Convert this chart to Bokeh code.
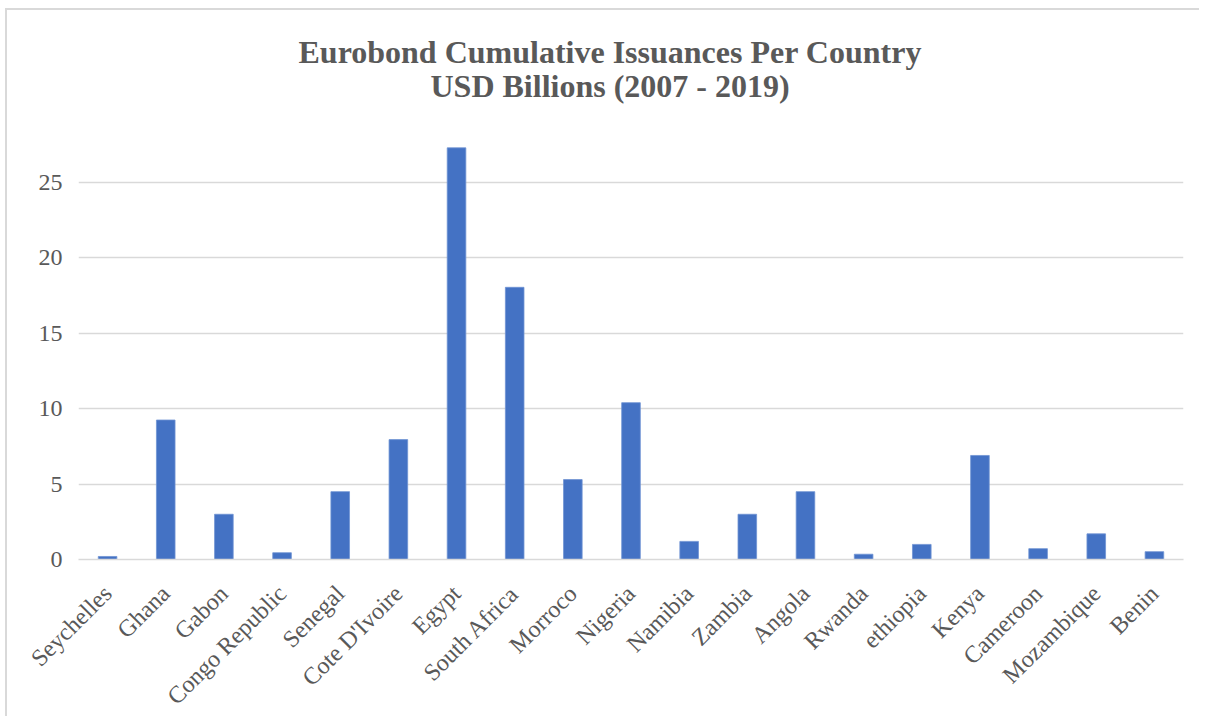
import math
from bokeh.plotting import figure
from bokeh.models import FixedTicker, Title, Range1d, FactorRange, ColumnDataSource
from bokeh.embed import file_html
from bokeh.resources import INLINE

countries = ["Seychelles", "Ghana", "Gabon", "Congo Republic", "Senegal", "Cote D'Ivoire",
             "Egypt", "South Africa", "Morroco", "Nigeria", "Namibia", "Zambia", "Angola",
             "Rwanda", "ethiopia", "Kenya", "Cameroon", "Mozambique", "Benin"]
values = [0.2, 9.25, 3.0, 0.45, 4.5, 7.95, 27.3, 18.05, 5.3, 10.4, 1.2, 3.0, 4.5,
          0.35, 1.0, 6.9, 0.72, 1.7, 0.52]
y_ticks = [0, 5, 10, 15, 20, 25]
title_line1 = "Eurobond Cumulative Issuances Per Country"
title_line2 = "USD Billions (2007 - 2019)"

FONT = "Liberation Serif"
GREY_TXT = "#595959"
GRID = "#d9d9d9"

src = ColumnDataSource(dict(country=countries, value=values))

p = figure(x_range=FactorRange(*countries), y_range=Range1d(0, 28.45),
           frame_width=1105, frame_height=429,
           min_border_left=71, min_border_right=16, min_border_top=120, min_border_bottom=147,
           output_backend="svg", toolbar_location=None, title=None)
p.styles = {"margin": "8px 0 0 5px",
            "border-top": "2px solid #d9d9d9", "border-left": "2px solid #d9d9d9"}

p.vbar(x="country", top="value", width=0.32, source=src,
       fill_color="#4472C4", line_color="#6f93d3", line_width=0.8)

p.outline_line_color = None
p.background_fill_color = "white"
p.border_fill_color = "white"

p.xgrid.visible = False
p.ygrid.grid_line_color = GRID
p.ygrid.grid_line_width = 1.5
p.yaxis.ticker = FixedTicker(ticks=y_ticks)

for ax in (p.xaxis[0], p.yaxis[0]):
    ax.major_tick_line_color = None
    ax.minor_tick_line_color = None
    ax.major_label_text_font = FONT
    ax.major_label_text_font_size = "24px"
    ax.major_label_text_color = GREY_TXT

p.yaxis.axis_line_color = None
p.yaxis.major_label_standoff = 10
p.xaxis.axis_line_color = GRID
p.xaxis.axis_line_width = 1.5
p.xaxis.major_label_orientation = math.pi / 4
p.xaxis.major_label_standoff = 24

t2 = Title(text=title_line2, align="left", offset=352, standoff=49, vertical_align="top",
           text_font=FONT, text_font_size="32px", text_font_style="bold", text_color=GREY_TXT)
t1 = Title(text=title_line1, align="left", offset=220, standoff=-52, vertical_align="bottom",
           text_font=FONT, text_font_size="32px", text_font_style="bold", text_color=GREY_TXT)
p.add_layout(t2, "above")
p.add_layout(t1, "above")

open("out.html", "w").write(file_html(p, INLINE))
